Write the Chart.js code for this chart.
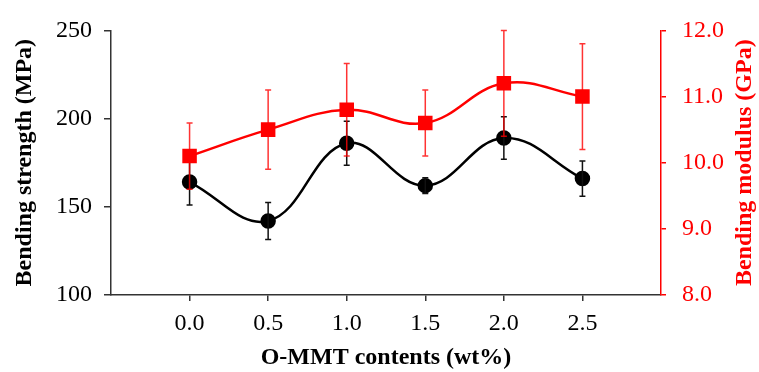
<!DOCTYPE html>
<html>
<head>
<meta charset="utf-8">
<script src="https://cdn.jsdelivr.net/npm/chart.js@4"></script>
<style>
  html, body { margin: 0; padding: 0; background: #fff; }
  #wrap { width: 759px; height: 372px; }
</style>
</head>
<body>
<div id="wrap"><canvas id="chart"></canvas></div>
<script>
// O-MMT content of each sample (wt%)
const contents = [0.0, 0.5, 1.0, 1.5, 2.0, 2.5];
const xTickLabels = ['0.0', '0.5', '1.0', '1.5', '2.0', '2.5'];

// bending strength (MPa) and its error
const strength = [164, 142, 186, 162, 189, 166];
const strengthErr = [13, 10.5, 12.5, 4.5, 12, 10];

// bending modulus (GPa) and its error
const modulus = [10.1, 10.5, 10.8, 10.6, 11.2, 11.0];
const modulusErr = [0.5, 0.6, 0.7, 0.5, 0.8, 0.8];

const strengthTicks = [100, 150, 200, 250];
const modulusTicks = [8, 9, 10, 11, 12];

const FONT = "'Liberation Serif', 'Times New Roman', serif";

// draws the vertical error bars of a dataset right after it is drawn
const errorBars = {
    id: 'errorBars',
    afterDatasetDraw(chart, args) {
        const ds = chart.data.datasets[args.index];
        if (!ds.errors) return;
        const ctx = chart.ctx;
        const xs = chart.scales.x;
        const ys = chart.scales[ds.yAxisID];
        ctx.save();
        ctx.strokeStyle = ds.errorColor;
        ctx.lineWidth = 1.5;
        ds.data.forEach((p, i) => {
            const x = xs.getPixelForValue(p.x);
            const top = ys.getPixelForValue(p.y + ds.errors[i]);
            const bot = ys.getPixelForValue(p.y - ds.errors[i]);
            ctx.beginPath();
            ctx.moveTo(x, top); ctx.lineTo(x, bot);
            ctx.moveTo(x - 3, top); ctx.lineTo(x + 3, top);
            ctx.moveTo(x - 3, bot); ctx.lineTo(x + 3, bot);
            ctx.stroke();
        });
        ctx.restore();
    }
};

// right axis title reads bottom-to-top, Chart.js would turn it the other way
const rightTitle = {
    id: 'rightTitle',
    afterDraw(chart) {
        const s = chart.scales.y1;
        const ctx = chart.ctx;
        ctx.save();
        ctx.translate(s.right - 14, (s.top + s.bottom) / 2);
        ctx.rotate(-Math.PI / 2);
        ctx.fillStyle = '#ff0000';
        ctx.font = 'bold 24px ' + FONT;
        ctx.textAlign = 'center';
        ctx.textBaseline = 'middle';
        ctx.fillText('Bending modulus (GPa)', 0, 0);
        ctx.restore();
    }
};

new Chart(document.getElementById('chart'), {
    type: 'line',
    data: {
        datasets: [{
            label: 'Bending strength',
            data: contents.map((c, i) => ({x: c, y: strength[i]})),
            errors: strengthErr,
            errorColor: '#111',
            yAxisID: 'y',
            borderColor: '#000',
            backgroundColor: '#000',
            borderWidth: 2.5,
            pointStyle: 'circle',
            pointRadius: 6.5,
            tension: 0.4,
            order: 2,
        }, {
            label: 'Bending modulus',
            data: contents.map((c, i) => ({x: c, y: modulus[i]})),
            errors: modulusErr,
            errorColor: 'rgba(255, 0, 0, 0.8)',
            yAxisID: 'y1',
            borderColor: '#ff0000',
            backgroundColor: '#ff0000',
            borderWidth: 2.5,
            pointStyle: 'rect',
            pointRadius: 8.5,
            tension: 0.4,
            order: 1,
        }]
    },
    options: {
        responsive: true,
        maintainAspectRatio: false,
        animation: false,
        layout: { padding: { top: 23, left: 0, right: 0, bottom: 0 } },
        plugins: {
            legend: { display: false },
            tooltip: { enabled: false },
        },
        scales: {
            x: {
                type: 'linear',
                min: -0.5,
                max: 3.0,
                afterBuildTicks: (s) => { s.ticks = contents.map(v => ({value: v})); },
                afterFit: (s) => { s.height = 77; },
                ticks: {
                    callback: (v) => xTickLabels[contents.indexOf(v)],
                    color: '#000',
                    padding: 8,
                    font: { family: FONT, size: 24 },
                },
                grid: { drawOnChartArea: false, tickLength: 6, color: '#333', lineWidth: 1.5 },
                border: { color: '#333', width: 1.5 },
                title: {
                    display: true,
                    text: 'O-MMT contents (wt%)',
                    color: '#000',
                    padding: { top: 0, bottom: 0 },
                    font: { family: FONT, size: 24, weight: 'bold' },
                },
            },
            y: {
                position: 'left',
                min: 100,
                max: 250,
                afterBuildTicks: (s) => { s.ticks = strengthTicks.map(v => ({value: v})); },
                afterFit: (s) => { s.width = 111; },
                ticks: {
                    color: '#000',
                    padding: 12,
                    font: { family: FONT, size: 24 },
                },
                grid: { drawOnChartArea: false, tickLength: 7, color: '#333', lineWidth: 1.5 },
                border: { color: '#333', width: 1.5 },
                title: {
                    display: true,
                    text: 'Bending strength (MPa)',
                    color: '#000',
                    padding: { top: 10, bottom: 0 },
                    font: { family: FONT, size: 24, weight: 'bold' },
                },
            },
            y1: {
                position: 'right',
                min: 8,
                max: 12,
                afterBuildTicks: (s) => { s.ticks = modulusTicks.map(v => ({value: v})); },
                afterFit: (s) => { s.width = 98; },
                ticks: {
                    callback: (v) => v.toFixed(1),
                    color: '#ff0000',
                    padding: 16,
                    font: { family: FONT, size: 24 },
                },
                grid: { drawOnChartArea: false, tickLength: 5, color: '#ff0000', lineWidth: 1.5 },
                border: { color: '#ff0000', width: 1.5 },
            },
        },
    },
    plugins: [errorBars, rightTitle],
});
</script>
</body>
</html>
